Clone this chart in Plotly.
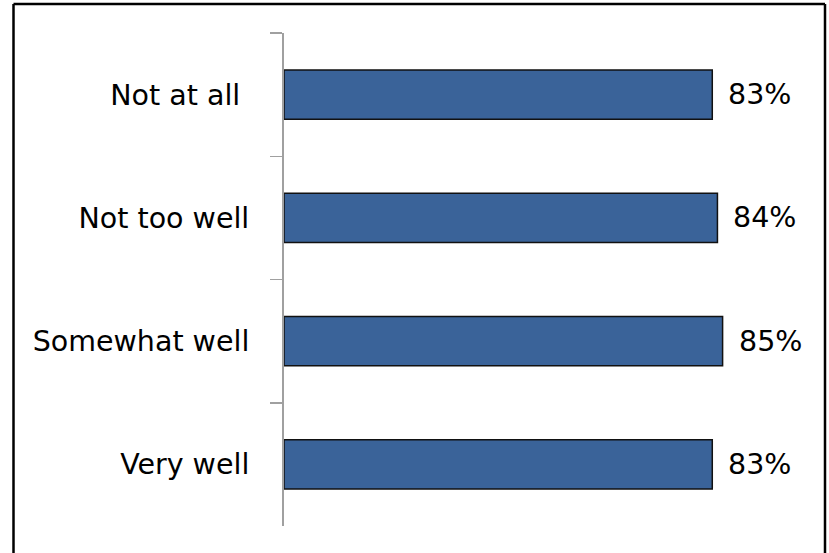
import plotly.graph_objects as go

categories = ["Not at all\u00a0", "Not too well", "Somewhat well", "Very well"]
values = [83, 84, 85, 83]
value_labels = ["83%", "84%", "85%", "83%"]

W, H = 829, 553
ml, mr, mt, mb = 284, 29, 33, 27
pw, ph = W - ml - mr, H - mt - mb

FONT = "'DejaVu Sans', sans-serif"
FS = 28.5

fig = go.Figure(go.Bar(
    y=categories, x=values, orientation="h",
    marker=dict(color="#3A6399", line=dict(color="#111111", width=1.5)),
    hoverinfo="skip",
))

for c, v, t in zip(categories, values, value_labels):
    fig.add_annotation(x=v, y=c, text=t, showarrow=False, xanchor="left",
                       xshift=14, font=dict(size=FS, color="#000000", family=FONT))

def px_x(p):
    return (p - ml) / pw

def px_y(p):
    return 1 - (p - mt) / ph

BORDER = dict(color="#000000", width=2.5)
L, R, T, B = px_x(13.5), px_x(825), px_y(4), px_y(600)
fig.add_shape(type="line", xref="paper", yref="paper", x0=L, x1=R, y0=T, y1=T, line=BORDER)
fig.add_shape(type="line", xref="paper", yref="paper", x0=L, x1=L, y0=T, y1=B, line=BORDER)
fig.add_shape(type="line", xref="paper", yref="paper", x0=R, x1=R, y0=T, y1=B, line=BORDER)

fig.update_layout(
    width=W, height=H,
    margin=dict(l=ml, r=mr, t=mt, b=mb),
    paper_bgcolor="white", plot_bgcolor="white",
    bargap=0.6, showlegend=False,
    xaxis=dict(range=[0, 100], visible=False, fixedrange=True),
    yaxis=dict(type="category", autorange="reversed", tickson="boundaries",
               ticks="outside", ticklen=12, tickcolor="#A0A0A0", tickwidth=1.5,
               showline=True, linecolor="#A0A0A0", linewidth=2,
               showgrid=False, ticklabelstandoff=27, fixedrange=True,
               tickfont=dict(size=FS, color="#000000", family=FONT)),
)

fig.write_html("out.html",
               config={"displayModeBar": False, "staticPlot": True},
               post_script="document.body.style.margin='0';document.body.style.overflow='hidden';")
